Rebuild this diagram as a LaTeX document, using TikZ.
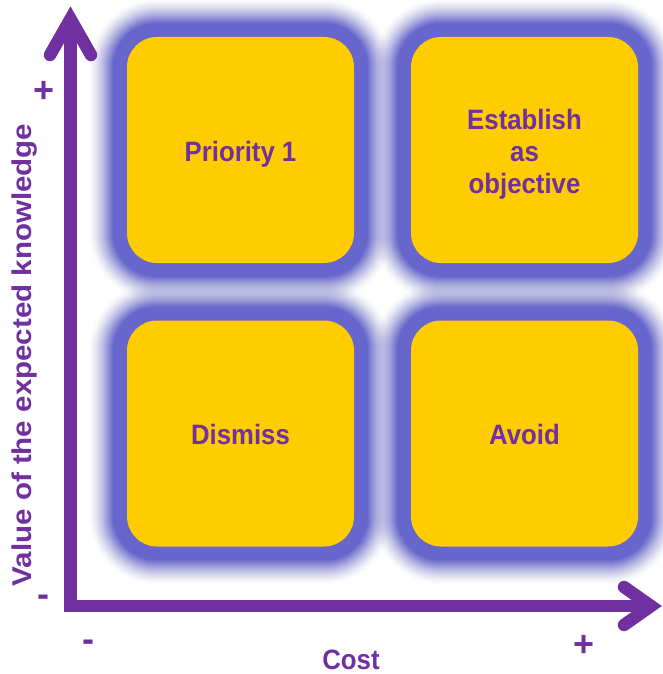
\documentclass[tikz,border=0pt]{standalone}
\usepackage{fontspec}
\usepackage{graphicx}
\setmainfont{Liberation Sans}
\usetikzlibrary{calc}
\definecolor{axispurple}{HTML}{7030A0}
\definecolor{haloblue}{HTML}{6666CC}
\definecolor{cellyellow}{HTML}{FFCC00}
\pgfdeclarelayer{paper}
\pgfdeclarelayer{halo}
\pgfsetlayers{paper,halo,main}
% slightly condensed lettering, lowered by #1 while keeping its box
\newcommand\hsq[2]{\raisebox{#1}[\height][\depth]{\scalebox{0.92}[1]{#2}}}

\begin{document}
\begin{tikzpicture}[x=1pt,y=-1pt,
  cell/.style={fill=cellyellow, rounded corners=30pt, minimum width=227pt,
    minimum height=226pt, inner sep=0pt, text=axispurple,
    font=\fontsize{28}{32}\selectfont\bfseries},
  axisline/.style={draw=axispurple, line width=12.5pt, line join=miter},
  arrowhead/.style={draw=axispurple, line width=12.5pt, line join=miter, line cap=round},
  axislabel/.style={text=axispurple, font=\fontsize{29.5}{33}\selectfont\bfseries, inner sep=0pt},
  sign/.style={text=axispurple, font=\fontsize{36}{40}\selectfont\bfseries, inner sep=0pt, anchor=base}]

\begin{pgfonlayer}{paper}
  \fill[white] (0,0) rectangle (662,674);
\end{pgfonlayer}
\useasboundingbox (0,0) rectangle (662,674);

% the four quadrant cells
\node[cell] (p1)  at (240.5,150)   {\hsq{-4pt}{Priority 1}};
\node[cell] (est) at (524.5,150)   {\hsq{-5pt}{\begin{tabular}{@{}c@{}}Establish\\as\\objective\end{tabular}}};
\node[cell] (dis) at (240.5,433.5) {\hsq{-1pt}{Dismiss}};
\node[cell] (avo) at (524.5,433.5) {\hsq{-1pt}{Avoid}};

% soft halo round each cell: a solid band, then stacked translucent strokes
% whose combined opacity falls off smoothly with the distance from the cell
\begin{pgfonlayer}{halo}
\foreach \n in {p1,est,dis,avo}{
  \foreach \d in {38,...,14}{
    \pgfmathsetmacro\halotin{((38.5-\d)/25)^1.5}
    \pgfmathsetmacro\halotout{(max(37.5-\d,0.001)/25)^1.5}
    \pgfmathsetmacro\haloop{1-(1-\halotin)/(1-\halotout)}
    \draw[haloblue, draw opacity=\haloop, line width=2*\d pt, rounded corners=30pt]
      (\n.north west) rectangle (\n.south east);
  }
  \draw[haloblue, line width=26pt, rounded corners=30pt]
    (\n.north west) rectangle (\n.south east);
}
\end{pgfonlayer}

% axes
\coordinate (origin) at (70.5,606);
\coordinate (ytip) at (70.5,19);
\coordinate (xtip) at (651,606);
\coordinate (yl) at (50,55);
\coordinate (yr) at (91,55);
\coordinate (xu) at (624,587);
\coordinate (xd) at (624,625);
\draw[axisline] (ytip) -- (origin) -- (xtip);
\draw[arrowhead] (yl) -- (ytip) -- (yr);
\draw[arrowhead] (xu) -- (xtip) -- (xd);

% axis labels and signs
\node[axislabel, rotate=90] (vlab) at (25,355) {\scalebox{1}[0.92]{Value of the expected knowledge}};
\node[axislabel, font=\fontsize{28}{32}\selectfont\bfseries] (clab) at (351,660) {\scalebox{0.92}[1]{Cost}};
\node[sign] (yplus) at (44,102.5) {+};
\node[sign] (yminus) at (43,606.5) {-};
\node[sign] (xminus) at (88,651.5) {-};
\node[sign] (xplus) at (584,656.5) {+};
\end{tikzpicture}
\end{document}
